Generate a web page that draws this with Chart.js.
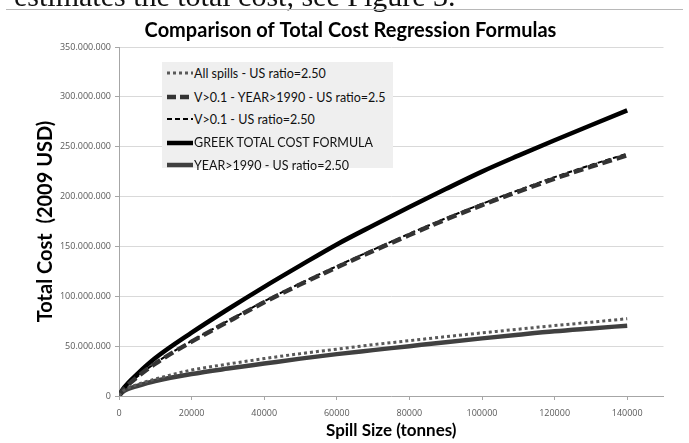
<!DOCTYPE html>
<html>
<head>
<meta charset="utf-8">
<script src="https://cdn.jsdelivr.net/npm/chart.js@4/dist/chart.umd.min.js"></script>
<style>
  html, body { margin: 0; padding: 0; background: #fff; overflow: hidden; }
  #wrap { position: relative; width: 689px; height: 443px; overflow: hidden; }
  #chart { position: absolute; left: 0; top: 0; }
  #doc { position: absolute; left: 14px; top: -19px; font: 30px "Liberation Serif", serif;
         line-height: 30px; white-space: nowrap; color: #111; }
  #rule { position: absolute; left: 6px; right: 6px; top: 9px; height: 1px; background: #b8b8b8; }
  #legend { position: absolute; left: 162px; top: 62px; width: 231px; height: 106px;
            background: #efefef; font: 12.5px Lato, sans-serif; color: #111; }
  .row { position: absolute; left: 4px; height: 23px; display: flex; align-items: center; white-space: nowrap; }
</style>
</head>
<body>
<div id="wrap">
  <canvas id="chart" width="689" height="443"></canvas>
  <div id="doc">estimates the total cost, see Figure 3.</div>
  <div id="rule"></div>
  <div id="legend"></div>
</div>
<script>
// Comparison of total cost regression formulas (millions USD)
const spillSize = [0, 1000, 2500, 5000, 10000, 20000, 30000, 40000, 50000, 60000,
                   70000, 80000, 90000, 100000, 110000, 120000, 130000, 140000];
const allSpills   = [0, 4.5, 8, 11.5, 17, 26, 32, 37.5, 42.5, 47, 51.5, 55.5, 59.5, 63.3, 67, 70.6, 74, 77.5];
const v01Year1990 = [0, 5.6, 11.2, 19, 32.5, 54.5, 74.5, 94, 112, 129, 145.5, 161.5, 177, 191.5, 205, 218, 230, 241.5];
const v01         = [0, 5.7, 11.4, 19.3, 33, 55.2, 75.3, 95, 113, 130.2, 146.7, 162.7, 178.2, 192.7, 206.4, 219.5, 231.6, 243];
const greek       = [0, 6.5, 13, 22, 38, 63.5, 87, 109.5, 131, 152, 171, 189.5, 207.5, 225, 241, 256.5, 271.5, 286.5];
const year1990    = [0, 4, 7, 10, 15, 22, 27.5, 32.5, 37.5, 42, 46, 50, 54, 57.8, 61.5, 65, 67.8, 70.5];

const seriesNames = ['All spills - US ratio=2.50', 'V>0.1 - YEAR>1990 - US ratio=2.5',
                     'V>0.1 - US ratio=2.50', 'GREEK TOTAL COST FORMULA', 'YEAR>1990 - US ratio=2.50'];
const xTickValues = [0, 20000, 40000, 60000, 80000, 100000, 120000, 140000];
const yTickValues = [0, 50e6, 100e6, 150e6, 200e6, 250e6, 300e6, 350e6];
const xAxisMax = 150000;

const pts = vals => spillSize.map((x, i) => ({ x, y: vals[i] * 1e6 }));
const dotsep = v => String(v).replace(/\B(?=(\d{3})+(?!\d))/g, '.');

const styles = [
  { color: '#595959', width: 3,   dash: [3, 3],  legendDash: '3 3' },
  { color: '#333333', width: 4.5, dash: [10, 5], legendDash: '9 4' },
  { color: '#000000', width: 2,   dash: [5, 3],  legendDash: '5 3' },
  { color: '#000000', width: 4.5, dash: [],      legendDash: '' },
  { color: '#404040', width: 4.5, dash: [],      legendDash: '' },
];
const allVals = [allSpills, v01Year1990, v01, greek, year1990];

const datasets = allVals.map((vals, i) => ({
  label: seriesNames[i],
  data: pts(vals),
  borderColor: styles[i].color,
  borderWidth: styles[i].width,
  borderDash: styles[i].dash,
  pointRadius: 0,
  cubicInterpolationMode: 'monotone',
  fill: false,
}));

const tickFont = { family: '"Open Sans", sans-serif', size: 9 };
const axisColor = '#a6a6a6';

new Chart(document.getElementById('chart'), {
  type: 'line',
  data: { datasets },
  options: {
    responsive: false,
    animation: false,
    // uneven side padding keeps the title centred where the original has it
    layout: { padding: { left: 37.5, right: 25.5, top: 0, bottom: 0 } },
    plugins: {
      legend: { display: false },
      tooltip: { enabled: false },
      title: {
        display: true, text: 'Comparison of Total Cost Regression Formulas',
        color: '#000', font: { family: 'Lato, sans-serif', size: 20, weight: 'bold' },
        padding: { top: 19, bottom: 4 },
      },
    },
    scales: {
      x: {
        type: 'linear', min: 0, max: xAxisMax,
        afterFit: s => { s.height = 47; },
        afterBuildTicks: s => { s.ticks = xTickValues.map(value => ({ value })); },
        ticks: { color: '#595959', font: tickFont, padding: 8, maxRotation: 0,
                 autoSkip: false, callback: v => String(v) },
        grid: { drawOnChartArea: false, tickLength: 4, color: axisColor },
        border: { color: axisColor },
        title: { display: true, text: 'Spill Size (tonnes)', color: '#000',
                 font: { family: 'Lato, sans-serif', size: 17, weight: 'bold' },
                 padding: { top: 0, bottom: 2 } },
      },
      y: {
        min: 0, max: yTickValues[yTickValues.length - 1],
        afterFit: s => { s.width = 81.5; },
        afterBuildTicks: s => { s.ticks = yTickValues.map(value => ({ value })); },
        ticks: { color: '#595959', font: tickFont, padding: 4, autoSkip: false,
                 callback: v => dotsep(v) },
        grid: { color: '#d9d9d9', tickColor: axisColor, tickLength: 4 },
        border: { color: axisColor },
        title: { display: true, text: 'Total Cost  (2009 USD)', color: '#000',
                 font: { family: 'Lato, sans-serif', size: 20, weight: 'bold', lineHeight: 0.85 },
                 padding: { top: 0, bottom: 0 } },
      },
    },
  },
});

// legend box inside the plot, like the original
const leg = document.getElementById('legend');
const rowCenters = [11.3, 35.3, 57.3, 80.7, 103];
datasets.forEach((d, i) => {
  const st = styles[i];
  const row = document.createElement('div');
  row.className = 'row';
  row.style.top = (rowCenters[i] - 11.5) + 'px';
  row.innerHTML =
    `<svg width="28" height="10"><line x1="1" y1="5" x2="27" y2="5" stroke="${st.color}"
      stroke-width="${st.width}" ${st.legendDash ? `stroke-dasharray="${st.legendDash}"` : ''}/></svg>` +
    `<span>${d.label.replace(/>/g, '&gt;')}</span>`;
  leg.appendChild(row);
});
</script>
</body>
</html>
